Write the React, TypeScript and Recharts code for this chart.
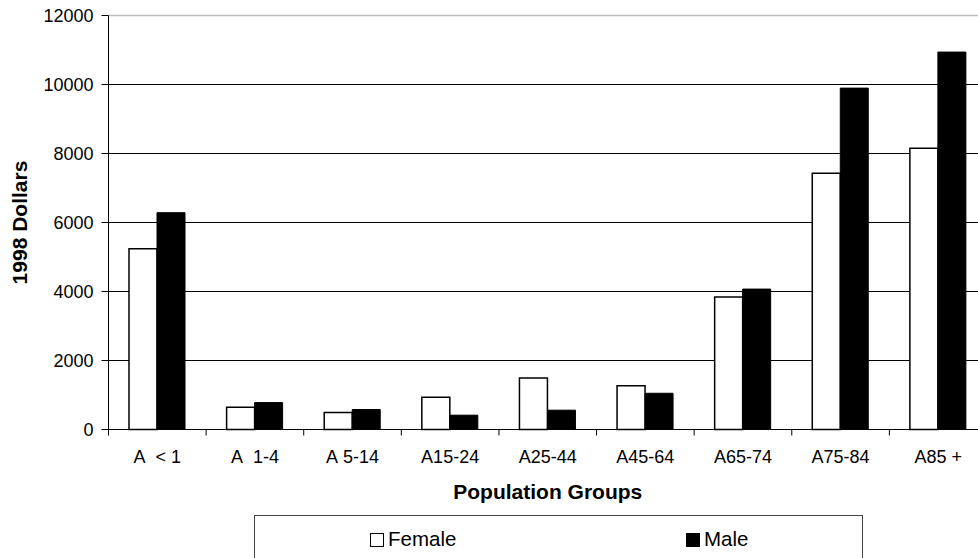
import { BarChart, Bar, XAxis, YAxis, CartesianGrid, ReferenceLine, Legend } from 'recharts';

// values (1998 dollars)
const groups = ['A  < 1', 'A  1-4', 'A 5-14', 'A15-24', 'A25-44', 'A45-64', 'A65-74', 'A75-84', 'A85 +'];
const female = [5240, 645, 490, 935, 1495, 1265, 3840, 7430, 8150];
const male = [6285, 780, 580, 415, 560, 1050, 4070, 9895, 10940];
const yTicks = [0, 2000, 4000, 6000, 8000, 10000, 12000];

const data = groups.map((group, i) => ({ group, Female: female[i], Male: male[i] }));

const FONT = '"Liberation Sans", Arial, Helvetica, sans-serif';
const TICK_SIZE = 6;
const TICK_MARGIN = 15;
// left edge of each legend entry inside the legend box
const legendLeft = [115, 431];

function GroupTick(props: any) {
  const { x, y, payload } = props;
  // tick marks sit on the category boundaries, labels in the middle
  const edge = payload.coordinate - (payload.offset ?? 48.8);
  const axisY = y - TICK_MARGIN - TICK_SIZE;
  return (
    <g>
      <line x1={edge} x2={edge} y1={axisY} y2={axisY + TICK_SIZE} stroke="#000" strokeWidth={1} />
      <text x={x} y={y} dy="0.71em" textAnchor="middle" fontSize={18} fill="#000">
        {String(payload.value).replace(/ /g, '\u00A0')}
      </text>
    </g>
  );
}

function YTitle(props: any) {
  const { viewBox } = props;
  const cx = 27;
  const cy = viewBox.y + viewBox.height / 2;
  return (
    <text x={cx} y={cy} transform={`rotate(-90 ${cx} ${cy})`} textAnchor="middle" fontSize={21} fontWeight="bold" fill="#000">
      1998 Dollars
    </text>
  );
}

function XTitle(props: any) {
  const { viewBox } = props;
  return (
    <text x={viewBox.x + viewBox.width / 2} y={viewBox.y + 69} textAnchor="middle" fontSize={21} fontWeight="bold" fill="#000">
      Population Groups
    </text>
  );
}

function LegendBox(props: any) {
  const { payload = [] } = props;
  return (
    <div
      style={{
        position: 'relative',
        width: '100%',
        height: '100%',
        boxSizing: 'border-box',
        border: '1px solid #444',
        background: '#fff',
        fontFamily: FONT,
      }}
    >
      {payload.map((entry: any, i: number) => (
        <div
          key={entry.value}
          style={{ position: 'absolute', left: legendLeft[i] ?? 0, top: 12.6, display: 'flex', alignItems: 'flex-start' }}
        >
          <span
            style={{
              display: 'inline-block',
              width: 14,
              height: 14,
              marginTop: 4,
              boxSizing: 'border-box',
              border: '1px solid #000',
              background: entry.value === 'Male' ? '#000' : '#fff',
              marginRight: 4,
            }}
          />
          <span style={{ fontSize: 20.5, color: '#000', lineHeight: '20.5px', whiteSpace: 'nowrap' }}>{entry.value}</span>
        </div>
      ))}
    </div>
  );
}

export default function App() {
  return (
    <div style={{ position: 'absolute', left: 0, top: 0, width: 978, height: 558, overflow: 'hidden', background: '#fff', fontFamily: FONT }}>
      <BarChart
        width={1000}
        height={558}
        data={data}
        margin={{ top: 15.5, right: 13, bottom: 88.5, left: 0 }}
        barGap={0}
        barCategoryGap={20.5}
      >
        <CartesianGrid vertical={false} stroke="#000" strokeWidth={1} />
        <ReferenceLine y={12000} stroke="#bdbdbd" strokeWidth={1.5} />
        <XAxis
          dataKey="group"
          height={40}
          interval={0}
          axisLine={{ stroke: '#000' }}
          tickLine={false}
          tickSize={TICK_SIZE}
          tickMargin={TICK_MARGIN}
          tick={<GroupTick />}
          label={<XTitle />}
        />
        <YAxis
          width={108.5}
          domain={[0, 12000]}
          ticks={yTicks}
          interval={0}
          axisLine={{ stroke: '#000' }}
          tickLine={{ stroke: '#000' }}
          tickSize={7}
          tickMargin={8}
          tick={{ fontSize: 18, fill: '#000' }}
          label={<YTitle />}
        />
        <Legend
          layout="horizontal"
          verticalAlign="middle"
          align="center"
          content={<LegendBox />}
          wrapperStyle={{ left: 254, top: 515, width: 609, height: 50 }}
        />
        <Bar dataKey="Female" fill="#fff" stroke="#000" strokeWidth={1.5} isAnimationActive={false} />
        <Bar dataKey="Male" fill="#000" stroke="#000" strokeWidth={1} isAnimationActive={false} />
      </BarChart>
    </div>
  );
}
